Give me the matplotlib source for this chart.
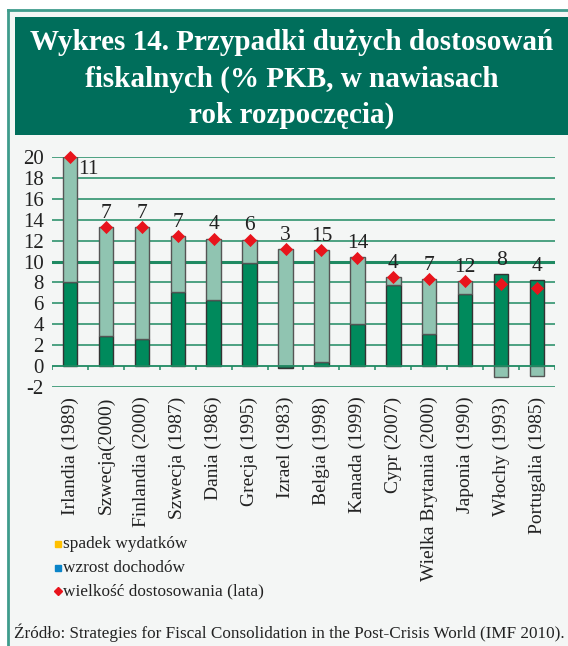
import matplotlib
matplotlib.use("Agg")
import matplotlib.pyplot as plt
import numpy as np
from matplotlib.patches import Rectangle
from matplotlib.lines import Line2D

categories = ["Irlandia (1989)", "Szwecja(2000)", "Finlandia (2000)", "Szwecja (1987)",
              "Dania (1986)", "Grecja (1995)", "Izrael (1983)", "Belgia (1998)",
              "Kanada (1999)", "Cypr (2007)", "Wielka Brytania (2000)", "Japonia (1990)",
              "Włochy (1993)", "Portugalia (1985)"]
dark_vals = [8.0, 2.9, 2.6, 7.1, 6.3, 9.9, -0.2, 0.4, 4.0, 7.8, 3.1, 6.9, 8.8, 8.2]
light_vals = [12.0, 10.4, 10.7, 5.3, 5.9, 2.2, 11.2, 10.7, 6.4, 0.7, 5.2, 1.2, -1.0, -0.9]
total_vals = [20.0, 13.3, 13.3, 12.4, 12.2, 12.1, 11.2, 11.1, 10.35, 8.5, 8.3, 8.1, 7.9, 7.5]
years = [11, 7, 7, 7, 4, 6, 3, 15, 14, 4, 7, 12, 8, 4]
yticks = [-2, 0, 2, 4, 6, 8, 10, 12, 14, 16, 18, 20]

BG = "#f4f6f5"
TITLE_BG = "#006e5b"
FRAME = "#3f9c8c"
DARK = "#008a5c"
LIGHT = "#90c4b1"
GRID = "#1f8a62"
SERIF = ["Liberation Serif", "DejaVu Serif"]

fig = plt.figure(figsize=(5.68, 6.46), dpi=100)
fig.patch.set_facecolor("white")
W, H = 568, 646

def fx(px):
    return px / W

def fy(py):
    return 1 - py / H

# background panel and frame
fig.patches.append(Rectangle((fx(8), 0), 1 - fx(8), fy(10), transform=fig.transFigure,
                             facecolor=BG, edgecolor="none", zorder=-10))
fig.lines.append(Line2D([fx(8), fx(8)], [0, fy(10)], transform=fig.transFigure, color=FRAME, lw=2, zorder=-5))
fig.lines.append(Line2D([fx(8), 1], [fy(10), fy(10)], transform=fig.transFigure, color=FRAME, lw=2, zorder=-5))
fig.patches.append(Rectangle((fx(15), fy(135)), 1 - fx(15), fy(17) - fy(135), transform=fig.transFigure,
                             facecolor=TITLE_BG, edgecolor="none", zorder=-5))

title_lines = ["Wykres 14. Przypadki dużych dostosowań", "fiskalnych (% PKB, w nawiasach", "rok rozpoczęcia)"]
for i, t in enumerate(title_lines):
    fig.text(fx(292), fy(43 + 36 * i), t, ha="center", va="center", color="white",
             fontsize=21, fontweight="bold", family=SERIF, zorder=2)

ax = fig.add_axes([fx(52), fy(387), fx(555) - fx(52), fy(157) - fy(387)])
ax.set_zorder(3)
ax.set_facecolor("none")
x = np.arange(len(categories))
bw = 0.4

for yv in yticks:
    if yv == 0:
        continue
    ax.axhline(yv, color=GRID, lw=2.2 if yv == 10 else 1.1, zorder=1)

ax.bar(x, dark_vals, bw, color=DARK, edgecolor="#333333", lw=1.0, zorder=3)
bottoms = [d if (l > 0 and d > 0) or (l < 0 and d < 0) else 0 for d, l in zip(dark_vals, light_vals)]
ax.bar(x, light_vals, bw, bottom=bottoms, color=LIGHT, edgecolor="#555555", lw=1.0, zorder=3)

ax.axhline(0, color=GRID, lw=1.3, zorder=4)
bounds = np.arange(len(categories) + 1) - 0.5
ax.vlines(bounds, -0.35, 0, color=GRID, lw=1.1, zorder=4)

ax.scatter(x, total_vals, marker="D", s=45, color="#e8141c", zorder=6, clip_on=False, linewidths=0)

for i, (yr, t) in enumerate(zip(years, total_vals)):
    top = max(t, bottoms[i] + light_vals[i] if light_vals[i] > 0 else dark_vals[i])
    if i == 0:
        ax.annotate(str(yr), (x[i], t), xytext=(6, -9), textcoords="offset points",
                    ha="left", va="center", fontsize=15.5, family=SERIF, color="#222222")
    else:
        ax.annotate(str(yr), (x[i], top), xytext=(0, 3), textcoords="offset points",
                    ha="center", va="bottom", fontsize=15.5, family=SERIF, color="#222222")

ax.set_xlim(-0.5, len(categories) - 0.5)
ax.set_ylim(-2, 20)
ax.set_yticks(yticks)
ax.set_yticklabels([str(v) for v in yticks], family=SERIF, fontsize=15, color="#222222")
ax.set_xticks(x)
ax.set_xticklabels(categories, rotation=90, family=SERIF, fontsize=14, color="#222222")
ax.tick_params(axis="both", length=0)
ax.tick_params(axis="x", pad=7)
ax.tick_params(axis="y", pad=6)
for s in ax.spines.values():
    s.set_visible(False)

# legend
leg_items = [("s", "#ffc000", "spadek wydatków"), ("s", "#0a84c8", "wzrost dochodów"),
             ("D", "#e8141c", "wielkość dostosowania (lata)")]
for i, (m, c, lab) in enumerate(leg_items):
    yy = fy(544 + 23.5 * i)
    fig.lines.append(Line2D([fx(58)], [yy], marker=m, color=c, markersize=5 if m == "s" else 4,
                            linestyle="none", transform=fig.transFigure))
    fig.text(fx(63), yy, lab, ha="left", va="center", fontsize=12.4, family=SERIF, color="#222222")

fig.text(fx(14), fy(633), "Źródło: Strategies for Fiscal Consolidation in the Post-Crisis World (IMF 2010).",
         ha="left", va="center", fontsize=12.3, family=SERIF, color="#222222")

fig.savefig("out.png", dpi=100, facecolor=fig.get_facecolor())
